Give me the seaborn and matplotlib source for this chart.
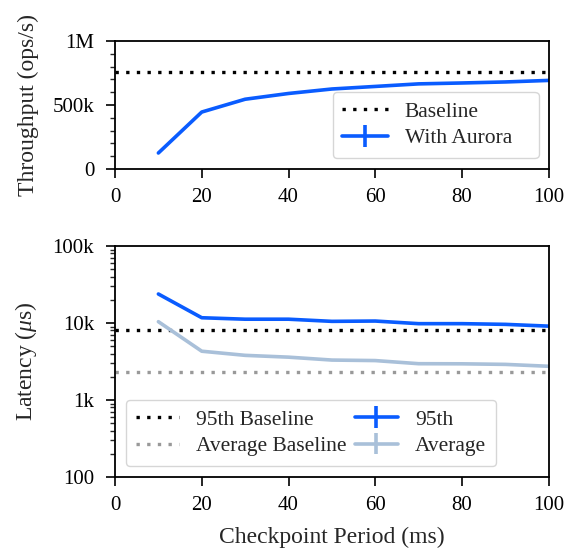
import matplotlib
matplotlib.use("Agg")
import matplotlib.pyplot as plt
import numpy as np
import pandas as pd
import seaborn as sns
from matplotlib.ticker import FixedLocator, FuncFormatter, LogLocator, MultipleLocator, NullFormatter

BLUE = "#0A5CFF"
LIGHT = "#A9C0D9"
GREY = "#999999"

period = [10, 20, 30, 40, 50, 60, 70, 80, 90, 100]
throughput = [125e3, 445e3, 545e3, 590e3, 625e3, 645e3, 665e3, 672e3, 680e3, 692e3]
throughput_baseline = 760e3
lat_95th = [23.8e3, 11.7e3, 11.2e3, 11.2e3, 10.5e3, 10.6e3, 9.8e3, 9.8e3, 9.6e3, 9.1e3]
lat_avg = [10.4e3, 4.3e3, 3.8e3, 3.6e3, 3.3e3, 3.25e3, 2.96e3, 2.95e3, 2.9e3, 2.74e3]
lat_95th_baseline = 8.0e3
lat_avg_baseline = 2.33e3

sns.set_theme(style="ticks", context="notebook")
plt.rcParams["font.family"] = ["Liberation Serif", "DejaVu Serif"]
plt.rcParams["mathtext.fontset"] = "custom"
plt.rcParams["mathtext.it"] = "Liberation Serif:italic"
plt.rcParams["mathtext.rm"] = "Liberation Serif"
plt.rcParams["axes.unicode_minus"] = False

DOTS = (0, (1, 2.2))
TICK = 15
LABEL = 17
LEG = 15.5

fig = plt.figure(figsize=(5.73, 5.48), dpi=100)
ax1 = fig.add_axes([0.2007, 0.6916, 0.757, 0.2336])
ax2 = fig.add_axes([0.2007, 0.1296, 0.757, 0.4215])

frame = pd.DataFrame({"period": period, "throughput": throughput,
                      "p95": lat_95th, "avg": lat_avg})


def style_axis(ax):
    for spine in ax.spines.values():
        spine.set_linewidth(1.3)
        spine.set_color("black")
    ax.tick_params(which="major", length=6.5, width=1.2, labelsize=TICK, colors="black")
    ax.tick_params(axis="y", which="major", pad=8.5)
    ax.tick_params(axis="x", which="major", pad=7)
    ax.tick_params(which="minor", length=3.6, width=1.0)
    ax.set_xlim(0, 100)
    ax.xaxis.set_major_locator(MultipleLocator(20))


# throughput
ax1.axhline(throughput_baseline, color="black", lw=2.4, ls=DOTS, label="Baseline")
sns.lineplot(data=frame, x="period", y="throughput", color=BLUE, lw=2.6, ax=ax1, legend=False)
ax1.errorbar([np.nan], [np.nan], yerr=[np.nan], color=BLUE, lw=2.6, elinewidth=2.6,
             label="With Aurora")
ax1.set_ylim(0, 1e6)
ax1.yaxis.set_major_locator(MultipleLocator(5e5))
ax1.yaxis.set_minor_locator(MultipleLocator(1e5))
ax1.yaxis.set_major_formatter(FuncFormatter(
    lambda v, p: "0" if v == 0 else ("1M" if v >= 1e6 else f"{int(v / 1e3)}k")))
ax1.set_xlabel("")
ax1.set_ylabel("Throughput (ops/s)", fontsize=LABEL, labelpad=10)
style_axis(ax1)
ax1.legend(loc="lower left", mode="expand", fontsize=LEG, handlelength=2.1, borderpad=0.45,
           labelspacing=0.3, handletextpad=0.8, borderaxespad=0,
           bbox_to_anchor=(0.502, 0.086, 0.475, 0.4))

# latency
ax2.axhline(lat_95th_baseline, color="black", lw=2.4, ls=DOTS, label="95th Baseline")
ax2.axhline(lat_avg_baseline, color=GREY, lw=2.4, ls=DOTS, label="Average Baseline")
sns.lineplot(data=frame, x="period", y="p95", color=BLUE, lw=2.6, ax=ax2, legend=False)
sns.lineplot(data=frame, x="period", y="avg", color=LIGHT, lw=2.6, ax=ax2, legend=False)
ax2.errorbar([np.nan], [np.nan], yerr=[np.nan], color=BLUE, lw=2.6, elinewidth=2.6, label="95th")
ax2.errorbar([np.nan], [np.nan], yerr=[np.nan], color=LIGHT, lw=2.6, elinewidth=2.6, label="Average")
ax2.set_yscale("log")
ax2.set_ylim(100, 1e5)
ax2.yaxis.set_major_locator(FixedLocator([100, 1e3, 1e4, 1e5]))
ax2.yaxis.set_major_formatter(FuncFormatter(
    lambda v, p: f"{int(round(v))}" if v < 1e3 else f"{int(round(v / 1e3))}k"))
ax2.yaxis.set_minor_locator(LogLocator(base=10, subs=np.arange(2, 10)))
ax2.yaxis.set_minor_formatter(NullFormatter())
ax2.set_xlabel("Checkpoint Period (ms)", fontsize=LABEL, labelpad=9)
ax2.set_ylabel("Latency ($\\mu$s)", fontsize=LABEL, labelpad=10)
style_axis(ax2)
ax2.legend(loc="lower left", ncol=2, fontsize=LEG, handlelength=2.0, borderpad=0.45,
           labelspacing=0.3, handletextpad=0.8, columnspacing=0.4, borderaxespad=0,
           bbox_to_anchor=(0.025, 0.048))

fig.savefig("out.png", dpi=100, facecolor="white")
